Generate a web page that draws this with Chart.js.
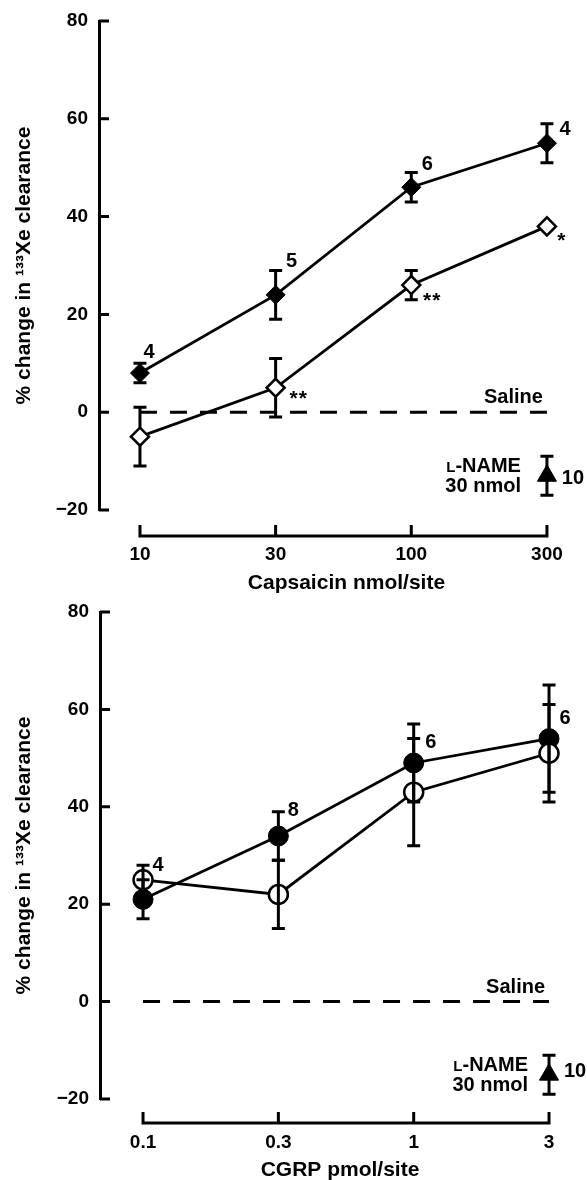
<!DOCTYPE html>
<html>
<head>
<meta charset="utf-8">
<script src="https://cdn.jsdelivr.net/npm/chart.js@4.4.1/dist/chart.umd.min.js"></script>
<style>
  body { margin: 0; background: #fff; width: 587px; height: 1180px; overflow: hidden; }
  canvas { position: absolute; left: 0; }
  #capsChart { top: 0; }
  #cgrpChart { top: 600px; }
</style>
</head>
<body>
<canvas id="capsChart" width="587" height="600"></canvas>
<canvas id="cgrpChart" width="587" height="580"></canvas>
<script>
// capsaicin panel
const capsDoses = ['10', '30', '100', '300'];
const capsAlone = [8, 24, 46, 55];
const capsAloneErr = [2, 5, 3, 4];
const capsAloneN = ['4', '5', '6', '4'];
const capsName = [-5, 5, 26, 38];
const capsNameErr = [6, 6, 3, 0];
const capsNameSig = ['', '**', '**', '*'];
const capsLName = [-13];
const capsLNameErr = [4];
const capsLNameN = ['10'];

// CGRP panel
const cgrpDoses = ['0.1', '0.3', '1', '3'];
const cgrpAlone = [21, 34, 49, 54];
const cgrpAloneErr = [4, 5, 8, 11];
const cgrpAloneN = ['', '8', '6', '6'];
const cgrpName = [25, 22, 43, 51];
const cgrpNameErr = [3, 7, 11, 10];
const cgrpNameN = ['4', '', '', ''];
const cgrpLName = [-15];
const cgrpLNameErr = [4];
const cgrpLNameN = ['10'];

const yTicks = [-20, 0, 20, 40, 60, 80];
const FONT = "'Liberation Sans', Arial, Helvetica, sans-serif";

Chart.defaults.font.family = FONT;
Chart.defaults.font.size = 19;
Chart.defaults.font.weight = 'bold';
Chart.defaults.color = '#000';

const pts = (arr, x0 = 0) => arr.map((v, i) => ({ x: i + x0, y: v }));

function drawErrors(chart) {
  const { ctx } = chart;
  const x = chart.scales.x, y = chart.scales.y;
  ctx.save();
  ctx.strokeStyle = '#000';
  ctx.lineWidth = 3;
  chart.data.datasets.forEach(ds => {
    if (!ds.errors) return;
    ds.data.forEach((p, j) => {
      const e = ds.errors[j];
      if (!e) return;
      const px = x.getPixelForValue(p.x);
      const top = y.getPixelForValue(p.y + e);
      const bot = y.getPixelForValue(p.y - e);
      ctx.beginPath();
      ctx.moveTo(px, top); ctx.lineTo(px, bot);
      ctx.moveTo(px - 6.5, top); ctx.lineTo(px + 6.5, top);
      ctx.moveTo(px - 6.5, bot); ctx.lineTo(px + 6.5, bot);
      ctx.stroke();
    });
  });
  ctx.restore();
}

const panelDecor = {
  id: 'panelDecor',
  beforeDatasetsDraw(chart, args, opts) {
    if (!opts.errorsInFront) drawErrors(chart);
  },
  afterDatasetsDraw(chart, args, opts) {
    if (opts.errorsInFront) drawErrors(chart);
  },
  afterDraw(chart, args, opts) {
    const { ctx, chartArea } = chart;
    const x = chart.scales.x, y = chart.scales.y;
    ctx.save();
    ctx.strokeStyle = '#000';
    ctx.fillStyle = '#000';
    ctx.lineWidth = 3;

    // inward ticks on the value axis
    ctx.beginPath();
    yTicks.forEach(v => {
      const py = y.getPixelForValue(v);
      ctx.moveTo(chartArea.left, py);
      ctx.lineTo(chartArea.left + 10, py);
    });
    ctx.stroke();

    // dose axis, set below the plot
    const n = opts.doses.length;
    const ax = chartArea.bottom + opts.axisGap;
    const x0 = x.getPixelForValue(0), x1 = x.getPixelForValue(n - 1);
    ctx.beginPath();
    ctx.moveTo(x0 - 1.5, ax);
    ctx.lineTo(x1 + 1.5, ax);
    for (let i = 0; i < n; i++) {
      const px = x.getPixelForValue(i);
      ctx.moveTo(px, ax);
      ctx.lineTo(px, ax - 11);
    }
    ctx.stroke();

    // dose axis title, centred on the dose range
    ctx.font = 'bold 21px ' + FONT;
    ctx.textAlign = 'center';
    ctx.textBaseline = 'middle';
    ctx.fillText(opts.title, (x0 + x1) / 2 + opts.titleShift, chart.height - opts.titleLift);

    // n values and significance marks
    chart.data.datasets.forEach(ds => {
      if (!ds.notes) return;
      ds.data.forEach((p, j) => {
        const t = ds.notes[j];
        if (!t) return;
        const off = ds.noteOffsets[j];
        const star = t[0] === '*';
        ctx.font = 'bold ' + (star ? 21 : 20) + 'px ' + FONT;
        ctx.letterSpacing = star ? '1px' : '0px';
        ctx.fillText(t, x.getPixelForValue(p.x) + off[0], y.getPixelForValue(p.y) + off[1]);
      });
    });
    ctx.letterSpacing = '0px';

    // saline reference label
    ctx.font = 'bold 20px ' + FONT;
    ctx.textAlign = 'right';
    ctx.textBaseline = 'alphabetic';
    ctx.fillText('Saline', x1 - 4, y.getPixelForValue(0) - 9);

    // L-NAME label beside its marker
    const tri = chart.getDatasetMeta(opts.lnameIndex).data[0];
    const xr = tri.x - opts.lnameGap;
    ctx.fillText('-NAME', xr, tri.y - 4);
    const w = ctx.measureText('-NAME').width;
    ctx.fillText('30 nmol', xr, tri.y + 16);
    ctx.font = 'bold 15px ' + FONT;
    ctx.fillText('L', xr - w, tri.y - 4);
    ctx.restore();
  }
};

function makeChart(id, cfg) {
  return new Chart(document.getElementById(id), {
    type: 'line',
    data: { datasets: cfg.datasets },
    plugins: [panelDecor],
    options: {
      responsive: false,
      animation: false,
      events: [],
      layout: { padding: { top: cfg.padTop, right: 17, left: 0, bottom: 0 } },
      elements: { line: { tension: 0 } },
      plugins: {
        legend: { display: false },
        tooltip: { enabled: false },
        panelDecor: {
          doses: cfg.doses,
          title: cfg.xTitle,
          titleShift: cfg.titleShift,
          titleLift: cfg.titleLift,
          axisGap: cfg.axisGap,
          lnameGap: cfg.lnameGap,
          errorsInFront: cfg.errorsInFront,
          lnameIndex: cfg.lnameIndex
        }
      },
      scales: {
        x: {
          type: 'linear',
          min: cfg.xMin,
          max: cfg.xMax,
          afterBuildTicks: s => { s.ticks = cfg.doses.map((d, i) => ({ value: i })); },
          afterFit: s => { s.height = cfg.xHeight; s.paddingLeft = 0; s.paddingRight = 0; },
          grid: { display: false, drawTicks: false },
          border: { display: false },
          ticks: {
            padding: cfg.tickPad,
            maxRotation: 0,
            autoSkip: false,
            callback: v => cfg.doses[v]
          }
        },
        y: {
          min: -20,
          max: 80,
          afterBuildTicks: s => { s.ticks = yTicks.map(v => ({ value: v })); },
          afterFit: s => { s.width = cfg.yWidth; s.paddingTop = 0; s.paddingBottom = 0; },
          grid: { display: false, drawTicks: false },
          border: { display: true, width: 3, color: '#000' },
          ticks: {
            padding: 11,
            font: { lineHeight: 1 },
            callback: v => v < 0 ? '\u2212' + Math.abs(v) : String(v)
          },
          title: {
            display: true,
            text: '% change in \u00b9\u00b3\u00b3Xe clearance',
            font: { size: 21 },
            padding: { top: 12, bottom: 0 }
          }
        }
      }
    }
  });
}

const lineStyle = { borderColor: '#000', borderWidth: 2.8, pointBorderColor: '#000' };

makeChart('capsChart', {
  doses: capsDoses,
  xTitle: 'Capsaicin nmol/site',
  titleShift: 3, titleLift: 17,
  padTop: 21, xHeight: 90, yWidth: 99, axisGap: 26, tickPad: 33,
  xMin: -0.302, xMax: 3.17,
  lnameGap: 26,
  errorsInFront: false,
  lnameIndex: 3,
  datasets: [
    Object.assign({}, lineStyle, {
      label: 'capsaicin', data: pts(capsAlone), errors: capsAloneErr,
      notes: capsAloneN, noteOffsets: [[9, -21], [16, -33], [16, -23], [18, -14]],
      pointStyle: 'rectRot', pointRadius: 9.5, pointBackgroundColor: '#000', pointBorderWidth: 1, order: 1
    }),
    Object.assign({}, lineStyle, {
      label: 'capsaicin + L-NAME', data: pts(capsName), errors: capsNameErr,
      notes: capsNameSig, noteOffsets: [[0, 0], [23, 11], [21, 16], [15, 15]],
      pointStyle: 'rectRot', pointRadius: 9, pointBackgroundColor: '#fff', pointBorderWidth: 2.5, order: 0
    }),
    {
      label: 'saline', data: [{ x: 0, y: 0 }, { x: 3, y: 0 }],
      borderColor: '#000', borderWidth: 3, borderDash: [17, 13], pointRadius: 0, order: 3
    },
    {
      label: 'L-NAME', data: pts(capsLName, 3), errors: capsLNameErr,
      notes: capsLNameN, noteOffsets: [[26, 3]],
      showLine: false, pointStyle: 'triangle', pointRadius: 11,
      pointBackgroundColor: '#000', pointBorderColor: '#000', pointBorderWidth: 1, order: 2
    }
  ]
});

makeChart('cgrpChart', {
  doses: cgrpDoses,
  xTitle: 'CGRP pmol/site',
  titleShift: -6, titleLift: 10,
  padTop: 10, xHeight: 81, yWidth: 100, axisGap: 24, tickPad: 32,
  xMin: -0.318, xMax: 3.155,
  lnameGap: 21,
  errorsInFront: true,
  lnameIndex: 3,
  datasets: [
    Object.assign({}, lineStyle, {
      label: 'CGRP', data: pts(cgrpAlone), errors: cgrpAloneErr,
      notes: cgrpAloneN, noteOffsets: [[0, 0], [15, -26], [17, -20], [16, -20]],
      pointStyle: 'circle', pointRadius: 10, pointBackgroundColor: '#000', pointBorderWidth: 1, order: 1
    }),
    Object.assign({}, lineStyle, {
      label: 'CGRP + L-NAME', data: pts(cgrpName), errors: cgrpNameErr,
      notes: cgrpNameN, noteOffsets: [[15, -14], [0, 0], [0, 0], [0, 0]],
      pointStyle: 'circle', pointRadius: 9.5, pointBackgroundColor: '#fff', pointBorderWidth: 2.5, order: 0
    }),
    {
      label: 'saline', data: [{ x: 0, y: 0 }, { x: 3, y: 0 }],
      borderColor: '#000', borderWidth: 3, borderDash: [17, 13], pointRadius: 0, order: 3
    },
    {
      label: 'L-NAME', data: pts(cgrpLName, 3), errors: cgrpLNameErr,
      notes: cgrpLNameN, noteOffsets: [[26, -3]],
      showLine: false, pointStyle: 'triangle', pointRadius: 11,
      pointBackgroundColor: '#000', pointBorderColor: '#000', pointBorderWidth: 1, order: 2
    }
  ]
});
</script>
</body>
</html>
